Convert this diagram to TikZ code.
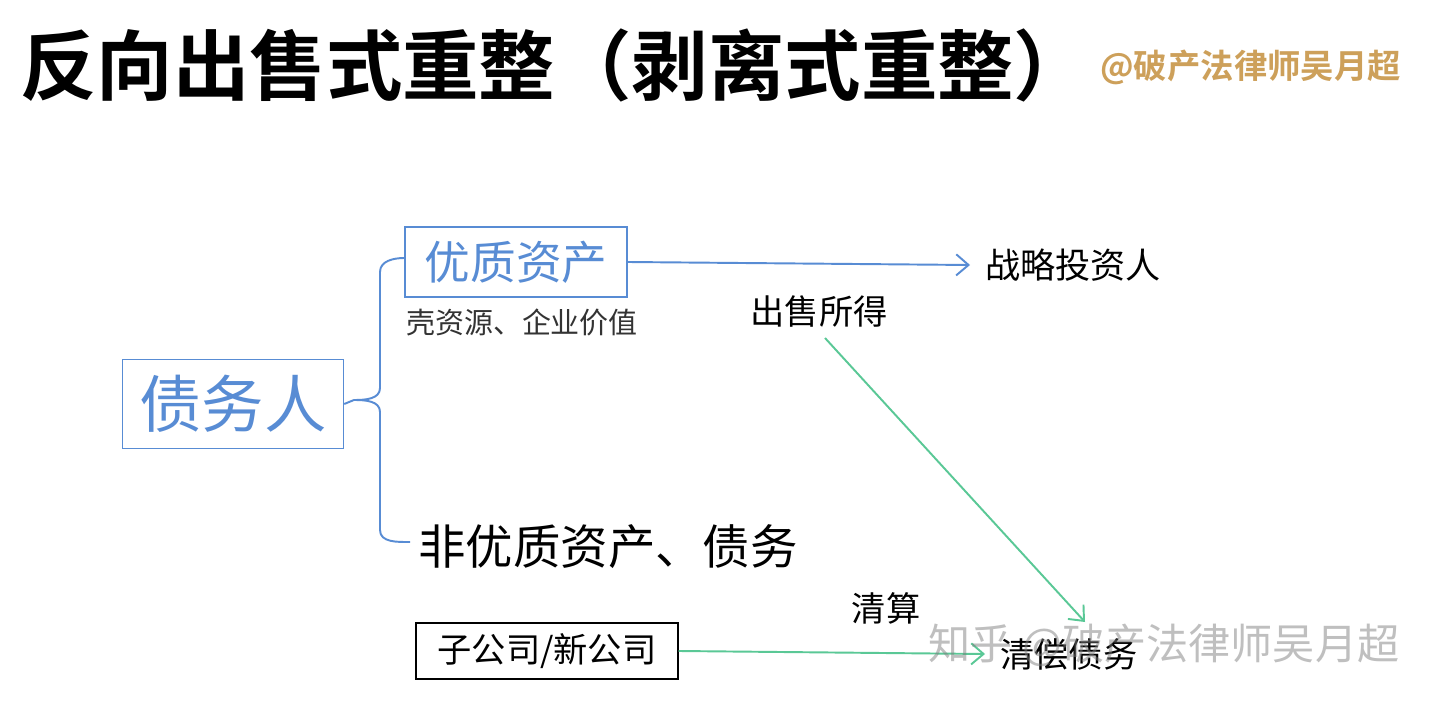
\documentclass[tikz,border=0pt]{standalone}
\usepackage{fontspec}
\setmainfont{Noto Sans CJK SC}
\newfontfamily\cjkb{Noto Sans CJK SC Bold}
\usetikzlibrary{arrows.meta}
\definecolor{bl}{RGB}{88,140,212}
\definecolor{gr}{RGB}{90,200,150}
\definecolor{gold}{RGB}{205,160,90}
\tikzset{x=0.02cm,y=-0.02cm,
 lbl/.style={inner sep=0,anchor=center},
 fs/.style={font=\fontsize{#1}{#1}\selectfont},
 conn/.style={line width=1.1pt},
 tip/.style={-{Straight Barb[length=7pt,width=12pt]}}}
\begin{document}
\begin{tikzpicture}
\useasboundingbox[fill=white] (0,0) rectangle (1440,702);
\node[lbl,anchor=west,font=\cjkb\fontsize{43.5}{43.5}\selectfont] (title) at (20,65) {反向出售式重整（剥离式重整）};
\node[lbl,anchor=west,text=gold,font=\cjkb\fontsize{19}{19}\selectfont] (wm) at (1100,67) {@破产法律师吴月超};
\node[draw=bl,thick,text=bl,fs=26,minimum width=222*0.02cm,minimum height=70*0.02cm,inner sep=0] (good) at (516,262) {优质资产};
\node[lbl,fs=16.5,text=black!80] (shell) at (522,322) {壳资源、企业价值};
\node[draw=bl,thick,text=bl,fs=35.5,minimum width=221*0.02cm,minimum height=89*0.02cm,inner sep=0] (debtor) at (233,404) {债务人};
\coordinate (bb) at (410,542);
\draw[bl,conn] (debtor.east) -- (354,400) to[out=0,in=-90] (380,388) -- (380,272) to[out=90,in=180] (good.west|-0,258);
\draw[bl,conn] (354,400) to[out=0,in=90] (380,412) -- (380,530) to[out=-90,in=180] (bb);
\node[lbl,anchor=west,fs=27] (bad) at (418,547) {非优质资产、债务};
\node[lbl,anchor=west,fs=20] (inv) at (985,265) {战略投资人};
\draw[bl,conn,tip] (good.east) -- ([xshift=-0.3cm]inv.west);
\node[lbl,fs=19.5] (sale) at (819,311) {出售所得};
\node[lbl,anchor=west,fs=19.5] (repay) at (1000,654) {清偿债务};
\draw[gr,conn,tip] (825,338) -- (1085,622);
\node[lbl,fs=19.5] (liq) at (886,608) {清算};
\node[draw=black,thick,fs=19.5,minimum width=262*0.02cm,minimum height=56*0.02cm,inner sep=0] (sub) at (547,651) {子公司/新公司};
\draw[gr,conn,tip] (sub.east) -- ([xshift=-0.3cm]repay.west);
\node[lbl,anchor=west,fs=24,text=gray,opacity=0.5] (zh) at (928,645) {知乎 @破产法律师吴月超};
\end{tikzpicture}
\end{document}
